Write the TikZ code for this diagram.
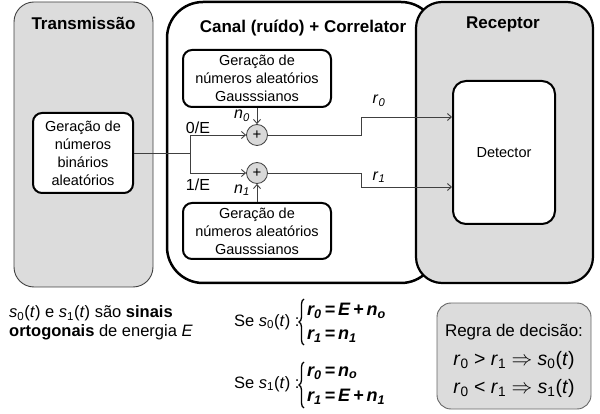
\documentclass[tikz,border=0pt]{standalone}
\usepackage{fontspec}
\setmainfont{Liberation Sans}
\usetikzlibrary{arrows.meta,decorations.pathreplacing}
\definecolor{boxgray}{HTML}{DCDCDC}
\definecolor{linegray}{HTML}{404040}
\definecolor{sumgray}{HTML}{D9D9D9}
\newcommand{\fs}[2]{\fontsize{#1}{#2}\selectfont}
\begin{document}
\begin{tikzpicture}[x=1pt,y=-1pt,
  panel/.style={rounded corners=#1, inner sep=0pt, anchor=center},
  inbox/.style={draw=black, line width=2pt, fill=white, rounded corners=9pt, align=center, inner sep=0pt, font=\fs{14.5}{18}},
  title/.style={font=\bfseries\fs{17}{20}},
  sumnode/.style={circle, draw=linegray, line width=0.8pt, fill=sumgray, minimum size=21pt, inner sep=0pt, font=\fs{15}{15}},
  conn/.style={draw=linegray, line width=0.9pt},
  arr/.style={conn, -{Straight Barb[length=4pt,width=7pt]}},
  lbl/.style={font=\fs{16}{18}, text=black, inner sep=0pt},
  txt/.style={inner sep=0pt, align=left, font=\fs{16.5}{19}},
  eqlab/.style={inner sep=0pt, anchor=west, font=\fs{16.5}{19}},
  eqn/.style={inner sep=0pt, anchor=west, font=\fs{18}{20}\bfseries\itshape},
  cbrace/.style={draw=black, line width=1.3pt, decorate, decoration={brace, amplitude=5pt, aspect=0.5}},
]
\useasboundingbox (0,0) rectangle (600,414);
% panels
\node[panel=20pt, draw=linegray, line width=0.9pt, fill=boxgray, minimum width=139pt, minimum height=285pt] (tpanel) at (83.5,144.5) {};
\node[panel=36pt, draw=black, line width=2.5pt, fill=white, minimum width=270pt, minimum height=281pt] (cpanel) at (302,142.5) {};
\node[panel=26pt, draw=black, line width=2.2pt, fill=boxgray, minimum width=177pt, minimum height=281pt] (rpanel) at (504.5,142.5) {};
% titles
\node[title] (ttitle) at (83.5,23) {Transmissão};
\node[title] (ctitle) at (303,28) {Canal (ruído) + Correlator};
\node[title] (rtitle) at (503,24) {Receptor};
% inner boxes
\node[inbox, minimum width=100pt, minimum height=80pt] (tx) at (83,153) {Geração de\\números\\binários\\aleatórios};
\node[inbox, minimum width=148pt, minimum height=57pt] (g0) at (257,78.5) {Geração de\\números aleatórios\\Gausssianos};
\node[inbox, minimum width=148pt, minimum height=56pt] (g1) at (257,231) {Geração de\\números aleatórios\\Gausssianos};
\node[inbox, rounded corners=13pt, minimum width=102pt, minimum height=143pt] (det) at (504,152.5) {Detector};
% adders
\node[sumnode] (s0) at (257,135) {+};
\node[sumnode] (s1) at (257,173) {+};
% connectors
\coordinate (split) at (190,153);
\coordinate (k0) at (361,117);
\coordinate (k1) at (361,187);
\draw[conn] (tx.east) -- (split);
\draw[arr] (split) |- (s0.west);
\draw[arr] (split) |- (s1.west);
\draw[arr] (g0.south) -- (s0.north);
\draw[arr] (g1.north) -- (s1.south);
\draw[arr] (s0.east) -| (k0) -- (k0 -| det.west);
\draw[arr] (s1.east) -| (k1) -- (k1 -| det.west);
% labels
\node[lbl] (l0E) at (198,128) {0/E};
\node[lbl] (l1E) at (198,185) {1/E};
\node[lbl] (ln0) at (242,116) {\textit{n}\textsubscript{\textit{0}}};
\node[lbl] (ln1) at (242,190) {\textit{n}\textsubscript{\textit{1}}};
\node[lbl] (lr0) at (379,101) {\textit{r}\textsubscript{\textit{0}}};
\node[lbl] (lr1) at (379,177) {\textit{r}\textsubscript{\textit{1}}};
% bottom text
\node[txt, anchor=west] (orto) at (9,323) {\textit{s}\textsubscript{0}(\textit{t}) e \textit{s}\textsubscript{1}(\textit{t}) são \textbf{sinais}\\\textbf{ortogonais} de energia \textit{E}};
% case s0
\node[eqlab] (se0) at (234,322) {Se \textit{s}\textsubscript{0}(\textit{t}) :};
\coordinate (b0top) at (304,299);
\coordinate (b0bot) at (304,345);
\draw[cbrace] (b0bot) -- (b0top);
\node[eqn] (e00) at (307,311) {r\textsubscript{0}\,=\,E\,+\,n\textsubscript{o}};
\node[eqn] (e01) at (307,336) {r\textsubscript{1}\,=\,n\textsubscript{1}};
% case s1
\node[eqlab] (se1) at (234,384) {Se \textit{s}\textsubscript{1}(\textit{t}) :};
\coordinate (b1top) at (304,362);
\coordinate (b1bot) at (304,408);
\draw[cbrace] (b1bot) -- (b1top);
\node[eqn] (e10) at (307,373) {r\textsubscript{0}\,=\,n\textsubscript{o}};
\node[eqn] (e11) at (307,397) {r\textsubscript{1}\,=\,E\,+\,n\textsubscript{1}};
% decision rule
\node[panel=14pt, draw=linegray!80, line width=0.9pt, fill=boxgray, minimum width=154pt, minimum height=106pt] (rule) at (514,356) {};
\node[inner sep=0pt, font=\fs{17}{19}] (ruletitle) at (514,332) {Regra de decisão:};
\node[inner sep=0pt, font=\fs{19.5}{22}] (rule0) at (514,360) {\textit{r}\textsubscript{0} > \textit{r}\textsubscript{1} $\Rightarrow$ \textit{s}\textsubscript{0}(\textit{t})};
\node[inner sep=0pt, font=\fs{19.5}{22}] (rule1) at (514,388) {\textit{r}\textsubscript{0} < \textit{r}\textsubscript{1} $\Rightarrow$ \textit{s}\textsubscript{1}(\textit{t})};
\end{tikzpicture}
\end{document}
